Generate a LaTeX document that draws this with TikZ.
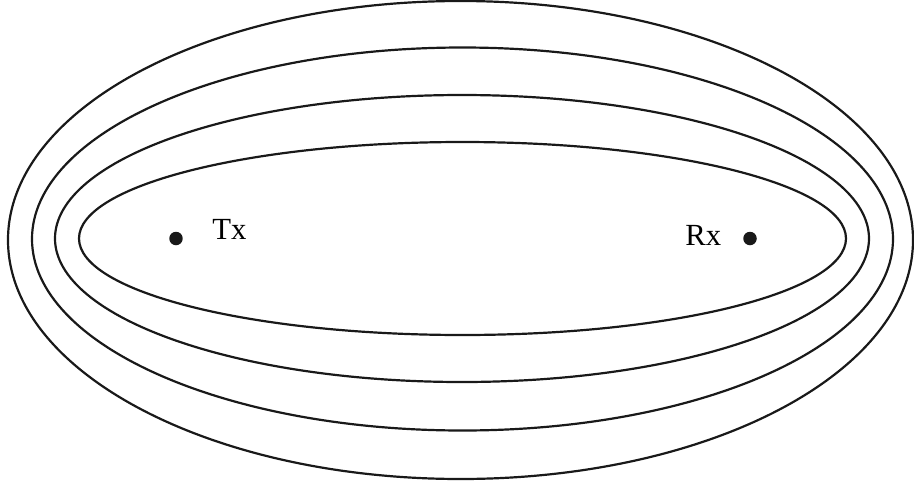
\documentclass[tikz,border=0pt]{standalone}
\usepackage{fontspec}
\setmainfont{Liberation Serif}
\usepackage{tikz}
\usetikzlibrary{positioning}

\begin{document}
\begin{tikzpicture}[
      x=0.02cm, y=-0.02cm,
      zone/.style={
        draw=black!90, line width=1.25pt
      },
      antenna/.style={
        circle, fill=black!90, 
        inner sep=0pt, 
        minimum size=0.27cm
      },
      label/.style={
        font=\fontsize{17.5}{17.5}\selectfont, 
        inner sep=0pt, anchor=base west
      }
    ]
      \useasboundingbox (0,0) rectangle (914,484);
      % zones, inside out
      \draw[zone] (462.5,238.5) ellipse [x radius=383.5, y radius=96.5];
      \draw[zone] (462,238.5) ellipse [x radius=407, y radius=143.5];
      \draw[zone] (462.5,239) ellipse [x radius=430.5, y radius=191.5];
      \draw[zone] (460.5,240) ellipse [x radius=452.5, y radius=239];
      \node[antenna] (tx) at (176,238.5) {};
      \node[antenna] (rx) at (750,238.5) {};
      \node[label] (txlabel) at (212,239) {Tx};
      \node[label] (rxlabel) at (685,245.5) {Rx};
    \end{tikzpicture}
\end{document}
